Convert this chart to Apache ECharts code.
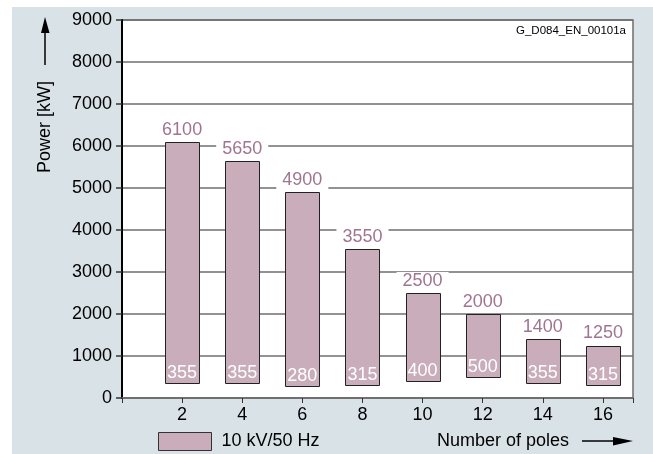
<!DOCTYPE html>
<html>
<head>
<meta charset="utf-8">
<script src="https://cdn.jsdelivr.net/npm/echarts@6/dist/echarts.min.js"></script>
<style>
html,body{margin:0;padding:0;background:#fff;}
#c{width:653px;height:454px;}
</style>
</head>
<body>
<div id="c"></div>
<script>
// Data
const poles = [2, 4, 6, 8, 10, 12, 14, 16];
const power = [6100, 5650, 4900, 3550, 2500, 2000, 1400, 1250];
const shaftHeight = [355, 355, 280, 315, 400, 500, 355, 315];
const yTicks = [0, 1000, 2000, 3000, 4000, 5000, 6000, 7000, 8000, 9000];
const seriesName = '10 kV/50 Hz';

const FONT = '"Liberation Sans", Arial, sans-serif';
const BAR_FILL = '#c9adbb';
const LABEL_COLOR = '#a07590';

const chart = echarts.init(document.getElementById('c'), null, {renderer: 'canvas'});

const data = poles.map((p, i) => [p, shaftHeight[i], power[i]]);

chart.setOption({
  animation: false,
  backgroundColor: '#ffffff',
  graphic: [
    {type: 'rect', left: 12, top: 7, z: -10, shape: {width: 641, height: 447}, style: {fill: '#d9e2e7'}},
    {type: 'text', x: 45, y: 127, rotation: Math.PI / 2, z: 10,
      style: {text: 'Power [kW]', font: '18px ' + FONT, fill: '#000', align: 'center', verticalAlign: 'middle'}},
    {type: 'line', z: 10, shape: {x1: 45, y1: 65, x2: 45, y2: 30}, style: {stroke: '#000', lineWidth: 1.5}},
    {type: 'polygon', z: 10, shape: {points: [[45, 17], [41, 33], [49.5, 33]]}, style: {fill: '#000'}},
    {type: 'text', x: 626, y: 31, z: 10,
      style: {text: 'G_D084_EN_00101a', font: '11.5px ' + FONT, fill: '#000', align: 'right', verticalAlign: 'middle'}},
    {type: 'text', x: 437, y: 441, z: 10,
      style: {text: 'Number of poles', font: '18px ' + FONT, fill: '#000', align: 'left', verticalAlign: 'middle'}},
    {type: 'line', z: 10, shape: {x1: 582, y1: 441, x2: 616, y2: 441}, style: {stroke: '#000', lineWidth: 1.5}},
    {type: 'polygon', z: 10, shape: {points: [[633, 441], [613, 437], [613, 445.5]]}, style: {fill: '#000'}}
  ],
  grid: {
    left: 122, right: 20, top: 20, bottom: 56,
    show: true, backgroundColor: '#ffffff', borderColor: '#6e6e6e', borderWidth: 1.5
  },
  legend: {
    left: 158, top: 432, padding: 0,
    itemWidth: 53, itemHeight: 18,
    textStyle: {fontSize: 18, fontFamily: FONT, color: '#000', padding: [0, 0, 0, 5]},
    data: [{name: seriesName, icon: 'rect', itemStyle: {color: BAR_FILL, borderColor: '#333', borderWidth: 1}}]
  },
  xAxis: {
    type: 'value', min: 0, max: 17, interval: 2,
    axisLine: {show: true, lineStyle: {color: '#6e6e6e', width: 1.5}},
    axisTick: {show: true, length: 5, lineStyle: {color: '#333', width: 1}},
    splitLine: {show: false},
    axisLabel: {
      margin: 8, fontSize: 18, fontFamily: FONT, color: '#000',
      showMinLabel: true, showMaxLabel: true,
      formatter: v => (poles.indexOf(v) >= 0 ? String(v) : '')
    }
  },
  yAxis: {
    type: 'value', min: yTicks[0], max: yTicks[yTicks.length - 1], interval: 1000,
    axisLine: {show: true, lineStyle: {color: '#000', width: 2}},
    axisTick: {show: true, length: 6, lineStyle: {color: '#333', width: 1.5}},
    splitLine: {show: true, lineStyle: {color: '#6e6e6e', width: 1.5}},
    axisLabel: {margin: 10, fontSize: 18, fontFamily: FONT, color: '#000', formatter: v => String(v)}
  },
  series: [{
    name: seriesName,
    type: 'custom',
    itemStyle: {color: BAR_FILL},
    encode: {x: 0, y: [1, 2]},
    data: data,
    renderItem: function (params, api) {
      const x = api.value(0), lo = api.value(1), hi = api.value(2);
      const pTop = api.coord([x, hi]);
      const pBot = api.coord([x, lo]);
      const w = 34;
      return {
        type: 'group',
        children: [
          {type: 'rect',
            shape: {x: Math.round(pTop[0] - w / 2) + 0.5, y: Math.round(pTop[1]) + 0.5, width: w, height: Math.round(pBot[1] - pTop[1])},
            style: {fill: BAR_FILL, stroke: '#222', lineWidth: 1}},
          {type: 'text', x: pTop[0], y: pTop[1] - 3,
            style: {text: String(hi), fill: LABEL_COLOR, font: '18px ' + FONT, align: 'center', verticalAlign: 'bottom',
              backgroundColor: '#ffffff', padding: [0, 6, 0, 6]}},
          {type: 'text', x: pTop[0], y: pBot[1] - 1,
            style: {text: String(lo), fill: '#ffffff', font: '18px ' + FONT, align: 'center', verticalAlign: 'bottom'}}
        ]
      };
    }
  }]
});
</script>
</body>
</html>
